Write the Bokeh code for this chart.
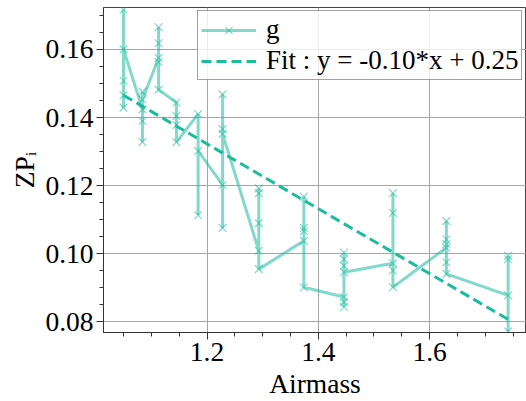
from bokeh.plotting import figure
from bokeh.models import Range1d, FixedTicker, PrintfTickFormatter, Legend, LegendItem
from bokeh.embed import file_html
from bokeh.resources import INLINE

# ---- data ----
airmass = [
    1.050, 1.050, 1.050, 1.050, 1.050,
    1.084, 1.084, 1.084, 1.084, 1.084,
    1.113, 1.113, 1.113, 1.113, 1.113,
    1.145, 1.145, 1.145, 1.145,
    1.184, 1.184, 1.184,
    1.228, 1.228, 1.228, 1.228, 1.228,
    1.293, 1.293, 1.293, 1.293, 1.293,
    1.374, 1.374, 1.374, 1.374, 1.374,
    1.446, 1.446, 1.446, 1.446, 1.446, 1.446, 1.446,
    1.534, 1.534, 1.534, 1.534, 1.534,
    1.630, 1.630, 1.630, 1.630, 1.630, 1.630,
    1.741, 1.741, 1.741, 1.741,
]
zp = [
    0.1717, 0.1429, 0.1465, 0.1508, 0.1600,
    0.1424, 0.1328, 0.1390, 0.1476, 0.1453,
    0.1575, 0.1665, 0.1618, 0.1563, 0.1482,
    0.1444, 0.1405, 0.1378, 0.1328,
    0.1410, 0.1113, 0.1302,
    0.1202, 0.1076, 0.1468, 0.1366, 0.1352,
    0.1009, 0.1192, 0.1178, 0.1090, 0.0955,
    0.1038, 0.1168, 0.1076, 0.1067, 0.0902,
    0.0873, 0.0844, 0.0859, 0.1004, 0.0984, 0.0965, 0.0946,
    0.0972, 0.1178, 0.1120, 0.0951, 0.0902,
    0.1018, 0.1096, 0.1042, 0.1028, 0.0975, 0.0941,
    0.0878, 0.0994, 0.0984, 0.0772,
]
fit_slope = -0.0952
fit_intercept = 0.2465
series_label = "g"
fit_label = "Fit : y = -0.10*x + 0.25"

x_ticks = [1.2, 1.4, 1.6]
x_minor_ticks = [1.05, 1.1, 1.15, 1.25, 1.3, 1.35, 1.45, 1.5, 1.55, 1.65, 1.7, 1.75]
y_ticks = [0.08, 0.10, 0.12, 0.14, 0.16]
y_minor_ticks = [0.085, 0.09, 0.095, 0.105, 0.11, 0.115, 0.125, 0.13, 0.135,
                 0.145, 0.15, 0.155, 0.165, 0.17]

FONT = "Liberation Serif"
COLOR = "#1abc9c"

p = figure(width=526, height=401, output_backend="svg", toolbar_location=None,
           x_range=Range1d(1.014, 1.774), y_range=Range1d(0.0769, 0.1723),
           min_border_left=103, min_border_right=0, min_border_top=7,
           min_border_bottom=65)
p.outline_line_color = "#444444"

l1 = p.line(airmass, zp, line_color=COLOR, line_alpha=0.55, line_width=3)
s1 = p.scatter(airmass, zp, marker="x", size=11, line_color=COLOR, line_alpha=0.55,
               line_width=1.2)
fx = [min(airmass), max(airmass)]
fy = [fit_slope * v + fit_intercept for v in fx]
l2 = p.line(fx, fy, line_color=COLOR, line_width=3, line_dash="10 5")

for ax in (p.xaxis[0], p.yaxis[0]):
    ax.axis_label_text_font = FONT
    ax.axis_label_text_font_size = "27.5px"
    ax.axis_label_text_font_style = "normal"
    ax.axis_label_text_color = "#000000"
    ax.major_label_text_font = FONT
    ax.major_label_text_font_size = "27.5px"
    ax.major_label_text_color = "#000000"
    ax.axis_line_color = "#333333"
    ax.major_tick_line_color = "#333333"
    ax.minor_tick_line_color = "#333333"
    ax.major_tick_out = 7
    ax.major_tick_in = 0
    ax.minor_tick_out = 4
    ax.minor_tick_in = 0
    ax.major_label_standoff = 3
    ax.axis_label_standoff = 4

p.xaxis.ticker = FixedTicker(ticks=x_ticks, minor_ticks=x_minor_ticks)
p.yaxis.ticker = FixedTicker(ticks=y_ticks, minor_ticks=y_minor_ticks)
p.yaxis.formatter = PrintfTickFormatter(format="%.2f")
p.xaxis.formatter = PrintfTickFormatter(format="%.1f")
p.xaxis.axis_label = "Airmass"
p.yaxis.axis_label = "ZP\u1d62"
p.yaxis.axis_label_standoff = 2

p.xgrid.grid_line_color = "#a6a6a6"
p.ygrid.grid_line_color = "#a6a6a6"

legend = Legend(items=[LegendItem(label=series_label, renderers=[l1, s1]),
                       LegendItem(label=fit_label, renderers=[l2])])
legend.location = (94, 252)
legend.label_text_font = FONT
legend.label_text_font_size = "27px"
legend.label_text_color = "#000000"
legend.border_line_color = "#444444"
legend.background_fill_alpha = 0.8
legend.glyph_width = 55
legend.glyph_height = 26
legend.label_height = 26
legend.padding = 3
legend.spacing = 0
legend.margin = 0
legend.label_standoff = 10
p.add_layout(legend)

open("out.html", "w").write(file_html(p, INLINE))
